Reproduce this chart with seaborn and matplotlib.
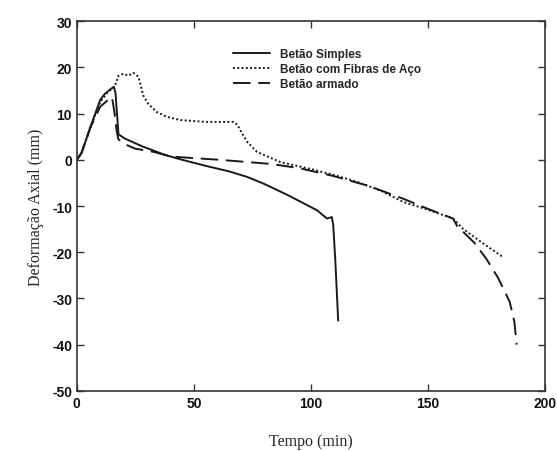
import matplotlib
matplotlib.use("Agg")
import matplotlib.pyplot as plt
import seaborn as sns
import pandas as pd

# Betão Simples
t_simples = [0, 2, 5.8, 10, 12, 14.5, 15.8, 16.5, 17.3, 17.8, 20.5, 28, 38, 45, 55, 65, 72.8, 80, 90, 102.6, 106.9, 109, 109.6, 110.5, 111.7]
d_simples = [0, 1.5, 7.1, 13.0, 14.3, 15.3, 15.8, 14.5, 9.0, 5.5, 4.6, 2.9, 1.0, 0.0, -1.3, -2.5, -3.7, -5.2, -7.6, -10.9, -12.7, -12.4, -14.2, -22.0, -34.8]

# Betão com Fibras de Aço
t_fibras = [0, 2, 5.8, 10, 13, 16.3, 17.8, 19.9, 22, 24.2, 26.3, 28.4, 30.5, 34, 38.4, 44.3, 55, 67, 68.6, 70.5, 72.8, 77, 87, 100, 110, 120, 130, 139.4, 150, 160.8, 165, 172, 182]
d_fibras = [0, 1.5, 7.0, 12.5, 14.5, 16.0, 18.2, 18.6, 18.2, 18.8, 18.0, 13.9, 12.1, 10.4, 9.3, 8.6, 8.2, 8.2, 7.6, 5.8, 3.9, 1.7, -0.5, -2.0, -3.3, -4.8, -6.7, -9.1, -10.8, -12.7, -14.9, -17.5, -21.0]

# Betão armado
t_armado = [0, 2, 5.8, 10, 13, 15.0, 16.0, 17.0, 17.7, 19.9, 25, 33, 38, 43, 61, 83, 95, 109.6, 125, 139.4, 150, 160.8, 162.5, 170, 175, 180, 185, 187, 188]
d_armado = [0, 1.5, 7.0, 11.5, 12.8, 13.6, 10.5, 6.3, 4.5, 3.5, 2.4, 1.7, 1.0, 0.6, 0.0, -0.9, -1.8, -3.5, -5.7, -8.4, -10.6, -12.7, -14.3, -18.0, -21.4, -25.5, -30.7, -35.0, -40.0]

labels = ["Betão Simples", "Betão com Fibras de Aço", "Betão armado"]

frames = []
for lab, t, d in zip(labels, [t_simples, t_fibras, t_armado], [d_simples, d_fibras, d_armado]):
    frames.append(pd.DataFrame({"Tempo": t, "Def": d, "Serie": lab}))
df = pd.concat(frames, ignore_index=True)

sns.set_theme(style="ticks")
plt.rcParams["font.family"] = ["Liberation Sans", "DejaVu Sans"]
plt.rcParams["axes.unicode_minus"] = False

fig = plt.figure(figsize=(5.57, 4.52), dpi=100)
ax = fig.add_axes([0.138, 0.133, 0.840, 0.818])

styles = {
    "Betão Simples": dict(linestyle="-"),
    "Betão com Fibras de Aço": dict(linestyle=(0, (1.0, 1.2))),
    "Betão armado": dict(linestyle=(0, (9, 4))),
}
for lab in labels:
    sub = df[df["Serie"] == lab]
    sns.lineplot(data=sub, x="Tempo", y="Def", ax=ax, sort=False, color="#1a1a1a",
                 linewidth=1.4, label=lab, estimator=None, **styles[lab])

ax.set_xlim(0, 200)
ax.set_ylim(-50, 30)
ax.set_xticks([0, 50, 100, 150, 200])
ax.set_yticks(range(-50, 31, 10))
ax.tick_params(direction="in", top=True, right=True, length=5, width=1, colors="#333333",
               labelcolor="#111111", labelsize=10)
for lbl in ax.get_xticklabels() + ax.get_yticklabels():
    lbl.set_fontweight("bold")
for s in ax.spines.values():
    s.set_linewidth(1.2)
    s.set_color("#333333")

ax.set_xlabel("Tempo (min)", fontfamily="Liberation Serif", fontsize=11.5, labelpad=17)
ax.set_ylabel("Deformação Axial (mm)", fontfamily="Liberation Serif", fontsize=11.5, labelpad=6)

leg = ax.legend(loc="upper left", bbox_to_anchor=(0.31, 0.955), frameon=False,
                prop={"weight": "bold", "size": 8.5}, handlelength=3.2, handletextpad=0.8,
                labelspacing=0.25)

fig.savefig("out.png", dpi=100)
